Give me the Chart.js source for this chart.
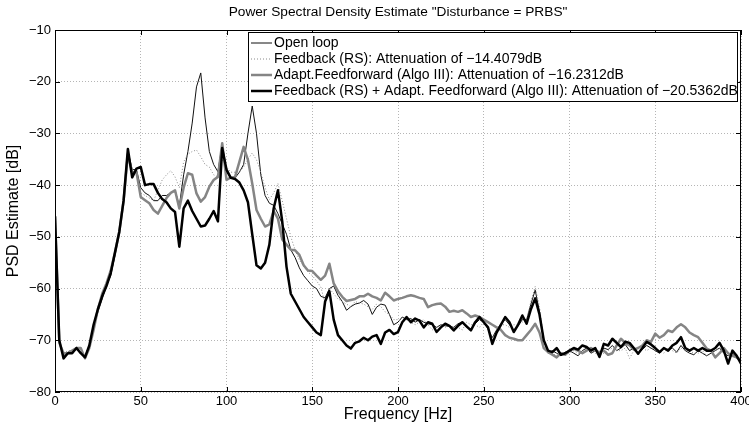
<!DOCTYPE html>
<html>
<head>
<meta charset="utf-8">
<script src="https://cdn.jsdelivr.net/npm/chart.js@4.4.0/dist/chart.umd.min.js"></script>
<style>
html, body { margin: 0; padding: 0; background: #fff; }
</style>
</head>
<body>
<canvas id="psd" width="749" height="427"></canvas>
<script>
'use strict';

// Frequency grid step [Hz], values read every 2.5 Hz from 0 to 400
const FREQ_STEP = 2.5;

// Open loop
const openLoop = [
    -46, -70.5, -73, -72.3, -72, -71.8, -72.3, -73, -71, -67.5,
    -64.5, -62, -59.5, -57.5, -53.5, -49, -43, -33.5, -37, -37,
    -40.5, -41.5, -42, -43, -43, -42, -42, -41.5, -41, -44,
    -38, -33.5, -28, -21, -18.3, -27, -33.5, -36, -37.4, -32,
    -37.5, -38.5, -38.6, -37.5, -36, -30, -24.7, -30, -38, -42,
    -43.5, -43.9, -45.5, -47.5, -49.5, -52.5, -54, -56, -57.5, -58.5,
    -59.5, -60, -61.5, -61.8, -60, -59.5, -61.3, -62.5, -64.2, -63.5,
    -63, -62.8, -62.3, -63, -65, -63.6, -63, -63.2, -65, -67,
    -66.5, -65.5, -66, -65.8, -66.5, -66, -66.5, -66.8, -67, -67.5,
    -67, -67.2, -67.3, -67.5, -66.8, -66.5, -67.5, -67.8, -66.8, -66,
    -66.5, -67.8, -69.5, -68, -66.8, -66, -67, -68, -67.3, -66,
    -66, -63, -60.3, -64.5, -70, -72.5, -72, -72.5, -73, -72.3,
    -72, -72.5, -73, -72, -71.5, -72.5, -72, -73, -71.5, -71.8,
    -71, -72, -71.5, -70.8, -72, -71.5, -72.5, -71.8, -71, -71.5,
    -72, -72.5, -71.5, -72, -71.5, -72.3, -71, -72, -72.5, -72.8,
    -72, -72.5, -73, -72.5, -72, -71.5, -72.5, -73, -72.5, -73.5,
    -73.5
];

// Feedback (RS)
const feedbackRS = [
    -46, -70.5, -72.5, -72, -72, -71.3, -72, -73, -71, -67.5,
    -64.2, -61.5, -59.3, -57, -53, -49, -43, -33.8, -37, -37.5,
    -41.5, -42, -42.5, -43, -41, -39, -38, -37.2, -38.4, -40.5,
    -35.5, -34, -33.5, -33.2, -34.5, -36, -36.5, -38, -38.4, -35,
    -36.5, -37.5, -37.5, -37.4, -36.5, -35, -33.8, -35.1, -37.5, -40.5,
    -42.8, -41.5, -39.7, -43, -46.5, -50, -52.5, -54.5, -55.7, -56.8,
    -57.5, -58.5, -59.7, -62.9, -60, -61, -62, -62.5, -63, -63.5,
    -62.5, -62.8, -63, -63.5, -64, -63, -63.5, -64.5, -65, -66,
    -66, -66.5, -66, -66.5, -67, -66.5, -66, -67, -68, -67.5,
    -67, -67.5, -67, -68, -67.5, -68, -66.5, -67, -67, -67.5,
    -66.5, -68, -69.5, -68, -67, -67, -67.5, -67, -67, -66.5,
    -66, -62.5, -59.6, -63.5, -70, -72.5, -72.5, -73, -72.5, -72.5,
    -72.5, -72, -72.5, -72.5, -71.5, -72, -72.5, -73, -72.5, -72,
    -71.5, -72, -72, -71.5, -73.5, -72, -72.5, -71.5, -72, -71.5,
    -71.5, -72, -72.5, -71.5, -72, -72.5, -71.5, -72, -72, -72.5,
    -72.5, -72, -73, -72.5, -72, -71.5, -72.5, -73, -72.5, -73.5,
    -73.5
];

// Adapt. Feedforward (Algo III)
const adaptFF = [
    -46, -70.5, -72.5, -72.5, -72, -71.5, -71.5, -73.5, -71.5, -68,
    -64, -61, -59, -56.5, -53, -49, -43, -34, -37.5, -37.5,
    -42.3, -42.9, -43.5, -44.8, -45.5, -44, -42.5, -41.5, -41, -44.5,
    -40.5, -37.7, -38, -41.6, -43.2, -42.3, -40.3, -39, -38.4, -31.9,
    -39, -38.5, -38.4, -35.5, -32.6, -35.1, -39.7, -44.8, -46.5, -48,
    -47.6, -45, -46.5, -50.5, -51.5, -52.5, -52.6, -53.5, -55.5, -56.5,
    -56.6, -57.5, -58.3, -57.5, -55.2, -59, -60.5, -61.6, -62.4, -62.2,
    -62, -61.5, -61.5, -61, -61.5, -61.8, -62.3, -60.8, -61.5, -62.3,
    -62, -61.8, -61.5, -61.3, -61.5, -61.8, -62, -63.6, -63.2, -63,
    -62.9, -63.5, -64.5, -64.3, -64.5, -64.2, -64.8, -65.5, -65.2, -65.5,
    -66, -66.5, -67, -67.5, -68, -69, -69.5, -69.7, -70, -70,
    -69, -68, -66.8, -68.5, -71.5, -72.3, -72.8, -73.3, -72.5, -72.8,
    -72, -71.6, -72, -72.5, -72, -71.5, -72, -72.3, -72, -72.8,
    -72.5, -71, -69.7, -70.5, -71, -71.8, -71.5, -71, -70, -70.3,
    -68.7, -69.5, -69, -68.1, -68.4, -67.5, -66.9, -67.5, -68.5, -69,
    -69.4, -70.5, -71.6, -72, -73.3, -72.5, -71.5, -72.5, -73, -73.3,
    -73.9
];

// Feedback (RS) + Adapt. Feedforward (Algo III)
const feedbackFF = [
    -46, -70, -73.5, -72.5, -72.5, -71.5, -72.5, -73.3, -71, -67,
    -64, -61.5, -59.5, -57, -53, -49, -43, -33, -38.5, -36.8,
    -36.5, -40, -39.8, -39.8, -41.5, -42.7, -43.3, -44.5, -45.2, -51.9,
    -44.5, -43, -45, -46.5, -48, -47.8, -46.5, -45, -47, -32.8,
    -37, -38.6, -38.8, -39.5, -41, -43.3, -49.5, -55.5, -56.1, -55,
    -51.5, -44.5, -41, -47, -55.8, -61, -62.5, -64, -65.5, -66.5,
    -67.5, -68.5, -69, -62.5, -60.5, -66, -69, -70, -71, -71.6,
    -70.5, -70.2, -69.5, -70, -69.3, -69, -70.7, -68.5, -68, -68.8,
    -68.4, -66.5, -65.5, -66.5, -65.8, -66.2, -67.5, -66.5, -66.8, -68.4,
    -67.5, -66.8, -67.2, -68.1, -67.2, -66.5, -67.3, -68.1, -66.5, -65.5,
    -66.5, -67.5, -70.7, -68.5, -67, -65.5, -66.5, -68.4, -67, -65.2,
    -66.8, -64, -61.9, -65, -70, -72, -72.3, -71.5, -72.8, -72.5,
    -72, -71.5, -71.8, -71, -71.3, -72, -71.5, -73.2, -70.7, -71,
    -69.7, -70.5, -71.3, -70.3, -70.5, -71.5, -72.6, -71.5, -70.3, -70.8,
    -71.5, -72.3, -71.5, -72, -71, -70.5, -69.4, -71.5, -72, -71.5,
    -72, -71.5, -72, -72, -71.5, -70.5, -72, -74.5, -72, -73,
    -74.5
];

// Legend labels
const seriesLabels = [
    "Open loop",
    "Feedback (RS): Attenuation of \u221214.4079dB",
    "Adapt.Feedforward (Algo III): Attenuation of \u221216.2312dB",
    "Feedback (RS) + Adapt. Feedforward (Algo III): Attenuation of \u221220.5362dB"
];

const chartTitle = 'Power Spectral Density Estimate "Disturbance = PRBS"';

const FONT = "'Liberation Sans', Arial, Helvetica, sans-serif";

// Build x/y pairs from a series
function toPoints(values) {
    return values.map((v, i) => ({ x: i * FREQ_STEP, y: v }));
}

// Axis box, inward ticks, title and legend like MATLAB
const matlabFrame = {
    id: 'matlabFrame',
    afterDatasetsDraw(chart) {
        const ctx = chart.ctx;
        const a = chart.chartArea;
        const xs = chart.scales.x;
        const ys = chart.scales.y;

        ctx.save();
        ctx.strokeStyle = '#000';
        ctx.lineWidth = 1;
        ctx.setLineDash([]);

        // Ticks
        ctx.beginPath();
        xs.ticks.forEach((t) => {
            let px = Math.round(xs.getPixelForValue(t.value)) + 0.5;
            ctx.moveTo(px, a.bottom);
            ctx.lineTo(px, a.bottom - 5);
            ctx.moveTo(px, a.top);
            ctx.lineTo(px, a.top + 5);
        });
        ys.ticks.forEach((t) => {
            let py = Math.round(ys.getPixelForValue(t.value)) + 0.5;
            ctx.moveTo(a.left, py);
            ctx.lineTo(a.left + 5, py);
            ctx.moveTo(a.right, py);
            ctx.lineTo(a.right - 5, py);
        });
        ctx.stroke();

        // Box
        ctx.strokeRect(Math.round(a.left) + 0.5, Math.round(a.top) + 0.5,
            Math.round(a.right - a.left) - 1, Math.round(a.bottom - a.top) - 1);

        // Title
        ctx.fillStyle = '#000';
        ctx.font = '13.7px ' + FONT;
        ctx.textAlign = 'center';
        ctx.textBaseline = 'middle';
        ctx.fillText(chartTitle, (a.left + a.right) / 2, 12);

        // Legend
        const lx = 248, ly = 32, lw = 489, lh = 69;
        ctx.fillStyle = '#fff';
        ctx.fillRect(lx, ly, lw, lh);
        ctx.strokeRect(lx + 0.5, ly + 0.5, lw, lh);

        ctx.font = '14px ' + FONT;
        ctx.textAlign = 'left';
        chart.data.datasets.forEach((ds, i) => {
            let y = ly + 11 + i * 16;
            ctx.beginPath();
            ctx.strokeStyle = ds.borderColor;
            ctx.lineWidth = ds.borderWidth;
            ctx.setLineDash(ds.borderDash || []);
            ctx.moveTo(lx + 3, y);
            ctx.lineTo(lx + 24, y);
            ctx.stroke();
            ctx.setLineDash([]);
            ctx.fillStyle = '#000';
            ctx.fillText(ds.label, lx + 26, y);
        });
        ctx.restore();
    }
};

const chart = new Chart(document.getElementById('psd').getContext('2d'), {
    type: 'line',
    data: {
        datasets: [{
            label: seriesLabels[0],
            data: toPoints(openLoop),
            borderColor: '#111',
            borderWidth: 1,
            order: 4
        }, {
            label: seriesLabels[1],
            data: toPoints(feedbackRS),
            borderColor: '#8a8a8a',
            borderWidth: 1,
            borderDash: [1, 2],
            order: 3
        }, {
            label: seriesLabels[2],
            data: toPoints(adaptFF),
            borderColor: '#858585',
            borderWidth: 2.5,
            order: 2
        }, {
            label: seriesLabels[3],
            data: toPoints(feedbackFF),
            borderColor: '#000',
            borderWidth: 2.5,
            order: 1
        }]
    },
    options: {
        responsive: false,
        animation: false,
        devicePixelRatio: 1,
        layout: { padding: { top: 30, right: 8, bottom: 0, left: 0 } },
        elements: {
            point: { radius: 0 },
            line: { tension: 0, borderJoinStyle: 'round' }
        },
        plugins: {
            legend: { display: false },
            tooltip: { enabled: false },
            title: { display: false }
        },
        scales: {
            x: {
                type: 'linear',
                min: 0,
                max: 400,
                ticks: {
                    stepSize: 50,
                    color: '#000',
                    padding: 2,
                    maxRotation: 0,
                    font: { family: FONT, size: 13 }
                },
                grid: { color: '#b5b5b5', drawTicks: false, lineWidth: 1 },
                border: { display: false, dash: [1, 2] },
                title: {
                    display: true,
                    text: 'Frequency [Hz]',
                    color: '#000',
                    font: { family: FONT, size: 16 },
                    padding: { top: 0, bottom: 3 }
                },
                afterFit(scale) {
                    scale.height = 35;
                    scale.paddingLeft = 0;
                    scale.paddingRight = 0;
                }
            },
            y: {
                type: 'linear',
                min: -80,
                max: -10,
                ticks: {
                    stepSize: 10,
                    color: '#000',
                    padding: 4,
                    font: { family: FONT, size: 13 },
                    callback: (v) => String(v).replace('-', '\u2212')
                },
                grid: { color: '#b5b5b5', drawTicks: false, lineWidth: 1 },
                border: { display: false, dash: [1, 2] },
                title: {
                    display: true,
                    text: 'PSD Estimate [dB]',
                    color: '#000',
                    font: { family: FONT, size: 16 },
                    padding: { top: 4, bottom: 0 }
                },
                afterFit(scale) {
                    scale.width = 55;
                    scale.paddingTop = 0;
                    scale.paddingBottom = 0;
                }
            }
        }
    },
    plugins: [matlabFrame]
});
</script>
</body>
</html>
